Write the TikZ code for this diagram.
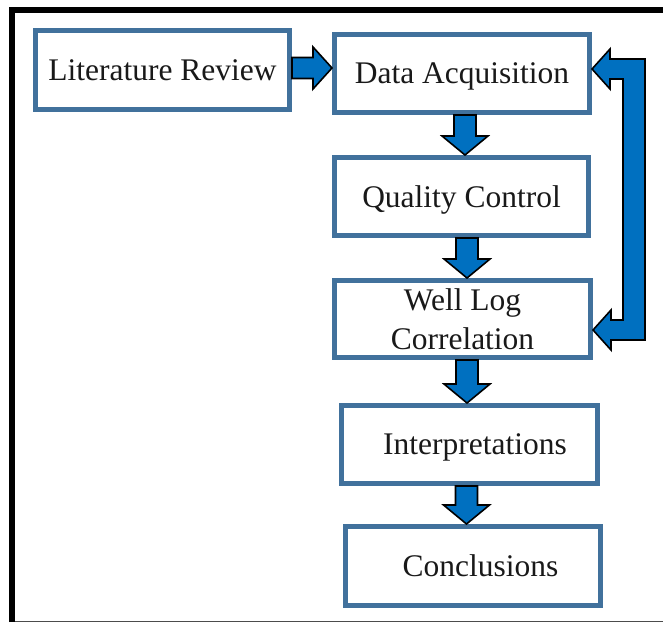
\documentclass[tikz,border=0pt]{standalone}
\usepackage{fontspec}
\setmainfont{Liberation Serif}
\usetikzlibrary{calc}
\definecolor{boxblue}{RGB}{65,113,156}
\definecolor{arrblue}{RGB}{0,112,192}
\newcommand\blkdown[3]{\filldraw[blk] let \p1=(#1.south), \p2=(#2.north), \p3=(#3,0) in
 (\x3-11bp,\y1) -- (\x3+11bp,\y1) -- (\x3+11bp,\y2+19bp) -- (\x3+23bp,\y2+19bp) -- (\x3,\y2) -- (\x3-23bp,\y2+19bp) -- (\x3-11bp,\y2+19bp) -- cycle;}
\begin{document}
\begin{tikzpicture}[x=1bp,y=-1bp,
 box/.style={draw=boxblue, line width=5bp, fill=white, inner sep=0pt, align=center,
   font=\fontsize{31.6pt}{39.2pt}\selectfont, text=black!90},
 blk/.style={fill=arrblue, draw=black, line width=1.6bp, line join=miter}]
\useasboundingbox (0,0) rectangle (663,624);
\fill[white] (0,0) rectangle (663,624);
\draw[line width=6bp, line join=miter] (12,622) -- (12,10) -- (663,10);
\draw[line width=1.5bp, black!70] (15,621.5) -- (663,621.5);
\node[box, minimum width=254bp, minimum height=79bp] (lr) at (162.5,70) {Literature Review};
\node[box, minimum width=255bp, minimum height=78bp, text depth=0pt] (da) at (462,73.5) {Data Acquisition};
\node[box, minimum width=254bp, minimum height=78bp, text depth=0pt] (qc) at (461.5,196.5) {Quality Control};
\node[box, minimum width=256bp, minimum height=77bp] (wlc) at (462.5,319) {Well Log\\Correlation};
\node[box, minimum width=256bp, minimum height=78bp, text depth=0pt] (int) at (469.5,444.5) {\hspace*{11bp}Interpretations};
\node[box, minimum width=255bp, minimum height=79bp] (con) at (473,566) {\hspace*{15bp}Conclusions};
\blkdown{da}{qc}{465}
\blkdown{qc}{wlc}{467}
\blkdown{wlc}{int}{467}
\blkdown{int}{con}{466.5}
\filldraw[blk] let \p1=(lr.east), \p2=(da.west), \p3=(0,68) in
 (\x1,\y3+10.5bp) -- (\x2-19bp,\y3+10.5bp) -- (\x2-19bp,\y3+21bp) -- (\x2,\y3)
 -- (\x2-19bp,\y3-21bp) -- (\x2-19bp,\y3-10.5bp) -- (\x1,\y3-10.5bp) -- cycle;
\filldraw[blk] let \p1=(da.east), \p2=(wlc.east), \p3=(645,69), \p4=(0,330) in
 (\x1,\y3) -- (\x1+18bp,\y3+20bp) -- (\x1+18bp,\y3+10bp) -- (\x3,\y3+10bp)
 -- (\x3,\y4-10bp) -- (\x2+18bp,\y4-10bp) -- (\x2+18bp,\y4-20bp) -- (\x2,\y4)
 -- (\x2+18bp,\y4+20bp) -- (\x2+18bp,\y4+10bp) -- (\x3-22bp,\y4+10bp)
 -- (\x3-22bp,\y3-10bp) -- (\x1+18bp,\y3-10bp) -- (\x1+18bp,\y3-20bp) -- cycle;
\end{tikzpicture}
\end{document}
